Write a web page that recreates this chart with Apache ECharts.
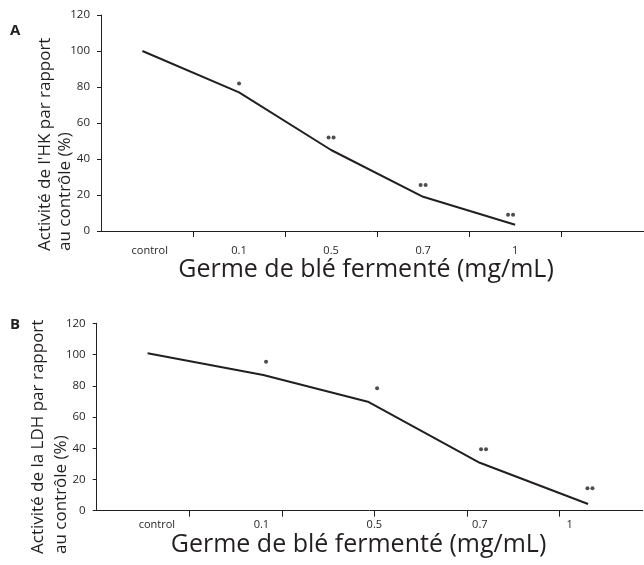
<!DOCTYPE html>
<html>
<head>
<meta charset="utf-8">
<script src="https://cdn.jsdelivr.net/npm/echarts@6/dist/echarts.min.js"></script>
<style>
  html, body { margin: 0; padding: 0; background: #fff; }
  #chart { width: 644px; height: 565px; }
</style>
</head>
<body>
<div id="chart"></div>
<script>
// libellés de l'axe x
const doseLabels = ["control", "0.1", "0.5", "0.7", "1"];
const yTicks = [0, 20, 40, 60, 80, 100, 120];

// A : activité HK (%)
const labelPosA = [0.53, 1.5, 2.5, 3.5, 4.5];
const lineXA = [0.45, 1.5, 2.5, 3.5, 4.5];
const lineYA = [100, 77, 45, 19, 3.5];
const dotXA = [1.5, 2.5, 3.5, 4.45];
const dotYA = [82, 52, 25.5, 9];
const dotCountA = [1, 2, 2, 2];

// B : activité LDH (%)
const labelPosB = [0.65, 1.78, 3.0, 4.14, 5.11];
const lineXB = [0.55, 1.8, 2.93, 4.14, 5.31];
const lineYB = [100.8, 86.9, 69.8, 30.7, 4.3];
const dotXB = [1.83, 3.03, 4.18, 5.33];
const dotYB = [95.4, 78.4, 39.3, 14.3];
const dotCountB = [1, 1, 2, 2];

const ink = "#231f20";
const font = "Open Sans";

// points de signification (• ou ••)
function dots(xs, ys, counts) {
  const out = [];
  xs.forEach((x, i) => {
    if (counts[i] === 1) {
      out.push({ value: [x, ys[i]] });
    } else {
      out.push({ value: [x, ys[i]], symbolOffset: [-2.5, 0] });
      out.push({ value: [x, ys[i]], symbolOffset: [2.5, 0] });
    }
  });
  return out;
}

function xAxisOf(gridIndex, labelPos, margin) {
  return {
    type: "value",
    gridIndex: gridIndex,
    min: 0,
    max: 5.9,
    splitLine: { show: false },
    axisLine: { lineStyle: { color: ink, width: 1 } },
    axisTick: { customValues: [1, 2, 3, 4, 5], length: 6, lineStyle: { color: ink } },
    axisLabel: {
      customValues: labelPos,
      margin: margin,
      color: ink,
      fontFamily: font,
      fontSize: 11,
      formatter: function (v) {
        const i = labelPos.indexOf(v);
        return i >= 0 ? doseLabels[i] : "";
      }
    }
  };
}

function yAxisOf(gridIndex) {
  return {
    type: "value",
    gridIndex: gridIndex,
    min: 0,
    max: 120,
    interval: 20,
    splitLine: { show: false },
    axisLine: { show: true, lineStyle: { color: ink, width: 1 } },
    axisTick: { show: true, length: 4, lineStyle: { color: ink } },
    axisLabel: { margin: 11, color: ink, fontFamily: font, fontSize: 11.5 }
  };
}

function pairs(xs, ys) {
  return xs.map((x, i) => [x, ys[i]]);
}

const chart = echarts.init(document.getElementById("chart"));

const option = {
  animation: false,
  grid: [
    { left: 101, top: 15, width: 546, height: 216 },
    { left: 96.7, top: 323.3, width: 546, height: 187.4 }
  ],
  xAxis: [xAxisOf(0, labelPosA, 14), xAxisOf(1, labelPosB, 9)],
  yAxis: [yAxisOf(0), yAxisOf(1)],
  series: [
    {
      type: "line",
      xAxisIndex: 0,
      yAxisIndex: 0,
      data: pairs(lineXA, lineYA),
      showSymbol: false,
      lineStyle: { color: ink, width: 2 }
    },
    {
      type: "scatter",
      xAxisIndex: 0,
      yAxisIndex: 0,
      data: dots(dotXA, dotYA, dotCountA),
      symbolSize: 4,
      itemStyle: { color: ink }
    },
    {
      type: "line",
      xAxisIndex: 1,
      yAxisIndex: 1,
      data: pairs(lineXB, lineYB),
      showSymbol: false,
      lineStyle: { color: ink, width: 2 }
    },
    {
      type: "scatter",
      xAxisIndex: 1,
      yAxisIndex: 1,
      data: dots(dotXB, dotYB, dotCountB),
      symbolSize: 4,
      itemStyle: { color: ink }
    }
  ],
  graphic: [
    // lettres des panneaux
    { type: "text", left: 10, top: 23, style: { text: "A", font: "bold 15px 'Open Sans'", fill: ink } },
    { type: "text", left: 10, top: 317, style: { text: "B", font: "bold 15px 'Open Sans'", fill: ink } },
    // titres de l'axe x
    {
      type: "text", x: 366, y: 270,
      style: { text: "Germe de blé fermenté (mg/mL)", font: "25px 'Open Sans'", fill: ink, align: "center", verticalAlign: "middle" }
    },
    {
      type: "text", x: 358.5, y: 545,
      style: { text: "Germe de blé fermenté (mg/mL)", font: "25px 'Open Sans'", fill: ink, align: "center", verticalAlign: "middle" }
    },
    // titres de l'axe y (texte tourné)
    {
      type: "text", x: 55.5, y: 251, rotation: Math.PI / 2,
      style: { text: "Activité de l'HK par rapport\nau contrôle (%)", font: "17px 'Open Sans'", lineHeight: 20, fill: ink, align: "left", verticalAlign: "middle" }
    },
    {
      type: "text", x: 50, y: 554, rotation: Math.PI / 2,
      style: { text: "Activité de la LDH par rapport\nau contrôle (%)", font: "17px 'Open Sans'", lineHeight: 23, fill: ink, align: "left", verticalAlign: "middle" }
    }
  ]
};

chart.setOption(option);
</script>
</body>
</html>
